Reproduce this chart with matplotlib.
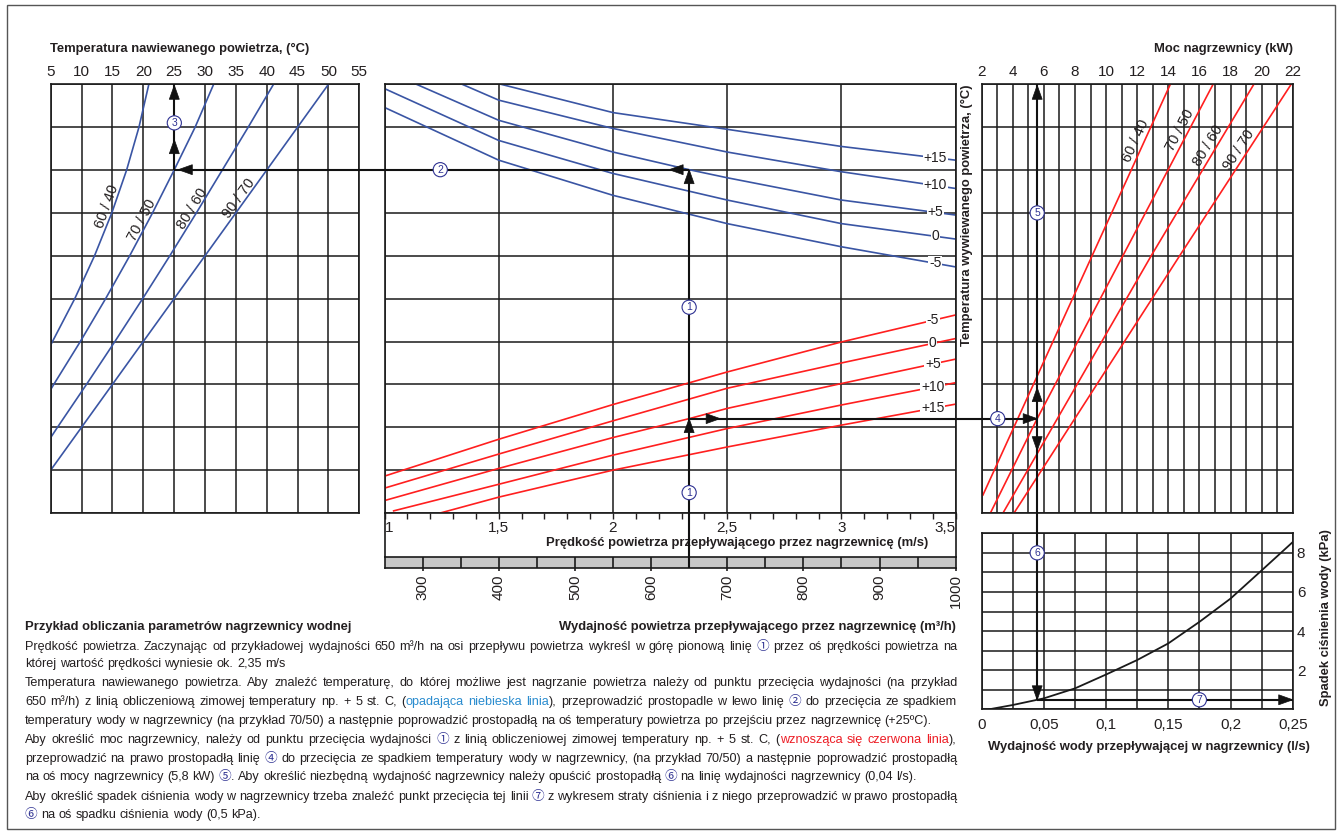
import numpy as np
import matplotlib
matplotlib.use('Agg')
import matplotlib.pyplot as plt
from matplotlib.patches import Polygon, Rectangle

FONT = ['Liberation Sans', 'Noto Sans CJK SC', 'DejaVu Sans']
plt.rcParams['font.family'] = FONT

# ---------------- data ----------------
# left panel: supply air temperature (°C) vs. grid row, per water temperature regime
supply_temp_ticks = [5, 10, 15, 20, 25, 30, 35, 40, 45, 50, 55]
regime_labels = ['60 / 40', '70 / 50', '80 / 60', '90 / 70']
left_temp = {
    '60 / 40': [20.9, 19.3, 17.3, 14.9, 12.1, 8.9, 5.0],
    '70 / 50': [31.4, 28.4, 25.0, 21.5, 17.8, 13.9, 9.8, 5.5, 5.0],
    '80 / 60': [41.1, 37.0, 32.8, 28.6, 24.3, 19.9, 15.4, 10.8, 6.1, 5.0],
    '90 / 70': [50.0, 5.0],
}
left_row = {
    '60 / 40': [10, 9, 8, 7, 6, 5, 3.92],
    '70 / 50': [10, 9, 8, 7, 6, 5, 4, 3, 2.88],
    '80 / 60': [10, 9, 8, 7, 6, 5, 4, 3, 2, 1.76],
    '90 / 70': [10, 1],
}

# middle panel: air velocity (m/s) and air flow (m3/h)
speed_ticks = [1, 1.5, 2, 2.5, 3, 3.5]
speed_tick_labels = ['1', '1,5', '2', '2,5', '3', '3,5']
flow_ticks = [300, 400, 500, 600, 700, 800, 900, 1000]
flow_tick_labels = ['300', '400', '500', '600', '700', '800', '900', '1000']
winter_labels = ['+15', '+10', '+5', '0', '-5']
# blue (supply temperature) curves: velocity -> row
blue_v = {
    '+15': [1.51, 2.0, 2.5, 3.0, 3.5],
    '+10': [1.34, 1.5, 2.0, 2.5, 3.0, 3.5],
    '+5': [1.14, 1.5, 2.0, 2.34, 2.5, 3.0, 3.5],
    '0': [1.0, 1.5, 2.0, 2.5, 3.0, 3.5],
    '-5': [1.0, 1.5, 2.0, 2.5, 3.0, 3.5],
}
blue_r = {
    '+15': [10.0, 9.34, 8.95, 8.55, 8.23],
    '+10': [10.0, 9.63, 8.97, 8.42, 7.96, 7.57],
    '+5': [10.0, 9.16, 8.42, 8.0, 7.82, 7.30, 6.95],
    '0': [9.9, 8.69, 7.92, 7.30, 6.75, 6.39],
    '-5': [9.46, 8.23, 7.41, 6.75, 6.21, 5.74],
}
# red (heating power) curves: velocity -> row
red_v = {
    '-5': [1.0, 1.5, 2.0, 2.5, 3.0, 3.5],
    '0': [1.0, 1.5, 2.0, 2.5, 3.0, 3.5],
    '+5': [1.0, 1.5, 2.0, 2.34, 2.5, 3.0, 3.5],
    '+10': [1.04, 1.5, 2.0, 2.5, 3.0, 3.5],
    '+15': [1.244, 1.5, 2.0, 2.5, 3.0, 3.5],
}
red_r = {
    '-5': [0.86, 1.72, 2.53, 3.29, 3.99, 4.62],
    '0': [0.58, 1.375, 2.15, 2.91, 3.50, 4.07],
    '+5': [0.29, 1.04, 1.76, 2.21, 2.44, 3.02, 3.59],
    '+10': [0.05, 0.67, 1.35, 1.97, 2.52, 3.04],
    '+15': [0.0, 0.37, 1.0, 1.54, 2.05, 2.54],
}

# right panel: heater power (kW) vs. row
power_ticks = [2, 4, 6, 8, 10, 12, 14, 16, 18, 20, 22]
right_kw = {
    '60 / 40': [14.13, 2.08],
    '70 / 50': [16.88, 5.58, 2.56],
    '80 / 60': [19.5, 12.9, 3.37],
    '90 / 70': [21.9, 14.73, 4.08],
}
right_row = {
    '60 / 40': [10, 0.42],
    '70 / 50': [10, 2.21, 0],
    '80 / 60': [10, 6.0, 0],
    '90 / 70': [10, 6.0, 0],
}

# bottom-right: water pressure drop
water_ticks = [0, 0.05, 0.1, 0.15, 0.2, 0.25]
water_tick_labels = ['0', '0,05', '0,1', '0,15', '0,2', '0,25']
dp_ticks = [2, 4, 6, 8]
water_flow = [0.006, 0.025, 0.05, 0.075, 0.1, 0.125, 0.15, 0.175, 0.2, 0.225, 0.25]
pressure_drop = [0.0, 0.22, 0.56, 1.07, 1.78, 2.52, 3.37, 4.47, 5.66, 7.1, 8.55]

# worked example
flow_example = 650
winter_example = '+5'
regime_example = '70 / 50'

# ---------------- styling ----------------
W, H = 1342, 833
BLUE = '#3a55a4'
RED = '#ff1f1f'
GRID = '#1a1a1a'
TXT = '#231f20'
CIRC = '#2e3192'
LBLUE = '#2a8ccf'
TXTRED = '#ed1c24'

fig = plt.figure(figsize=(W / 100, H / 100), dpi=100)


def add_ax(x0, y0, x1, y1, **kw):
    ax = fig.add_axes([x0 / W, 1 - y1 / H, (x1 - x0) / W, (y1 - y0) / H], **kw)
    for s in ax.spines.values():
        s.set_linewidth(1.2)
        s.set_color(GRID)
    return ax


def grid(ax, xs, ys, lw=1.1):
    ax.vlines(xs, ys[0], ys[-1], colors=GRID, lw=lw, zorder=1)
    ax.hlines(ys, xs[0], xs[-1], colors=GRID, lw=lw, zorder=1)


rows = np.arange(0, 11)

# ---- left panel
ax_l = add_ax(50.7, 84.3, 359.3, 513)
ax_l.set_xlim(5, 55)
ax_l.set_ylim(0, 10)
grid(ax_l, supply_temp_ticks, rows)
for lab in regime_labels:
    ax_l.plot(left_temp[lab], left_row[lab], color=BLUE, lw=1.2, zorder=2)
ax_l.xaxis.tick_top()
ax_l.set_xticks(supply_temp_ticks, [str(t) for t in supply_temp_ticks])
ax_l.tick_params(axis='x', length=0, pad=4, labelsize=11, colors=TXT)
ax_l.set_yticks([])

# ---- middle panel
ax_m = add_ax(384.5, 84.3, 955.7, 513)
ax_m.set_xlim(1, 3.5)
ax_m.set_ylim(0, 10)
grid(ax_m, speed_ticks, rows)
for lab in winter_labels:
    ax_m.plot(blue_v[lab], blue_r[lab], color=BLUE, lw=1.2, zorder=2)
    ax_m.plot(red_v[lab], red_r[lab], color=RED, lw=1.2, zorder=2)
for lab in winter_labels:
    rb = np.interp(3.41, blue_v[lab], blue_r[lab])
    ax_m.text(3.41, rb, lab, ha='center', va='center', fontsize=10, color=TXT, zorder=4,
              bbox=dict(boxstyle='square,pad=0.05', fc='white', ec='none'))
    rr = np.interp(3.40, red_v[lab], red_r[lab])
    ax_m.text(3.40, rr, lab, ha='center', va='center', fontsize=10, color=TXT, zorder=4,
              bbox=dict(boxstyle='square,pad=0.05', fc='white', ec='none'))
ax_m.set_xticks(speed_ticks, speed_tick_labels)
ax_m.xaxis.set_minor_locator(matplotlib.ticker.MultipleLocator(0.1))
ax_m.tick_params(axis='x', which='both', direction='out', length=4.5, width=1, pad=1,
                 labelsize=11, colors=TXT)
tl = ax_m.get_xticklabels()
tl[0].set_ha('left')
tl[-1].set_ha('right')
ax_m.set_yticks([])

# ---- flow strip
ax_f = add_ax(384.5, 556.7, 955.7, 568)
ax_f.set_facecolor('#c8c8c8')
ax_f.set_xlim(250, 1000)
ax_f.set_ylim(0, 1)
ax_f.vlines(np.arange(300, 1000, 50), 0, 1, colors=GRID, lw=1.2)
ax_f.set_xticks(flow_ticks, flow_tick_labels, rotation=90)
ax_f.tick_params(axis='x', length=2.5, width=1.2, pad=2, labelsize=11, colors=TXT)
ax_f.set_yticks([])

# ---- right panel
ax_r = add_ax(981.7, 84.3, 1292.7, 513)
ax_r.set_xlim(2, 22)
ax_r.set_ylim(0, 10)
grid(ax_r, np.arange(2, 23, 1), rows)
for lab in regime_labels:
    ax_r.plot(right_kw[lab], right_row[lab], color=RED, lw=1.2, zorder=2)
ax_r.xaxis.tick_top()
ax_r.set_xticks(power_ticks, [str(t) for t in power_ticks])
ax_r.tick_params(axis='x', length=0, pad=4, labelsize=11, colors=TXT)
ax_r.set_yticks([])

# ---- pressure drop panel
ax_p = add_ax(981.7, 533.3, 1292.7, 709.3)
ax_p.set_xlim(0, 0.25)
ax_p.set_ylim(0, 9)
grid(ax_p, np.linspace(0, 0.25, 11), np.arange(0, 10))
ax_p.plot(water_flow, pressure_drop, color=GRID, lw=1.3, zorder=2)
ax_p.set_xticks(water_ticks, water_tick_labels)
ax_p.yaxis.tick_right()
ax_p.set_yticks(dp_ticks, [str(t) for t in dp_ticks])
ax_p.tick_params(axis='both', length=0, labelsize=11, colors=TXT)
ax_p.tick_params(axis='x', pad=6)
ax_p.tick_params(axis='y', pad=3)

# ---- overlay (figure pixel coordinates)
ov = fig.add_axes([0, 0, 1, 1], facecolor='none')
ov.set_xlim(0, W)
ov.set_ylim(H, 0)
ov.axis('off')
ov.set_zorder(10)


def px(ax, x, y):
    dx, dy = ax.transData.transform((x, y))
    return dx, H - dy


def head(x, y, d, L=14, w=5):
    ux, uy = {'up': (0, -1), 'down': (0, 1), 'left': (-1, 0), 'right': (1, 0)}[d]
    bx, by = x - L * ux, y - L * uy
    nx, ny = -uy, ux
    ov.add_patch(Polygon([(x, y), (bx + w * nx, by + w * ny), (bx - w * nx, by - w * ny)],
                         closed=True, fc='#111111', ec='#111111', lw=0.5, zorder=6))


def marker(x, y, n):
    ov.text(x, y, str(n), ha='center', va='center', fontsize=7.5, color=CIRC, zorder=8,
            bbox=dict(boxstyle='circle,pad=0.2', fc='white', ec=CIRC, lw=0.8))


def seg(p, q):
    ov.plot([p[0], q[0]], [p[1], q[1]], color='#111111', lw=1.5, zorder=5,
            solid_capstyle='butt')


# middle frame sides between grid and flow strip
for xv in (1, 3.5):
    a = px(ax_m, xv, 0)
    b = px(ax_f, 250 if xv == 1 else 1000, 1)
    ov.plot([a[0], a[0]], [a[1], b[1]], color=GRID, lw=1.2)

# example path
v_ex = 1 + (flow_example - 250) / (1000 - 250) * (3.5 - 1)
r_sup = np.interp(v_ex, blue_v[winter_example], blue_r[winter_example])
r_pow = np.interp(v_ex, red_v[winter_example], red_r[winter_example])
lt = left_temp[regime_example][::-1]
lr = left_row[regime_example][::-1]
temp_ex = np.interp(r_sup, lr, lt)
rk = right_kw[regime_example][::-1]
rr_ = right_row[regime_example][::-1]
power_ex = np.interp(r_pow, rr_, rk)
x5, _ = px(ax_r, power_ex, 0)
water_ex = ax_p.transData.inverted().transform((x5, 0))[0]
dp_ex = np.interp(water_ex, water_flow, pressure_drop)

Pb = px(ax_f, flow_example, 0)
P1 = px(ax_m, v_ex, r_pow)
P2 = px(ax_m, v_ex, r_sup)
P3 = px(ax_l, temp_ex, r_sup)
P3t = px(ax_l, temp_ex, 10)
P4 = px(ax_r, power_ex, r_pow)
P5t = px(ax_r, power_ex, 10)
P6 = px(ax_p, water_ex, dp_ex)
P7 = px(ax_p, 0.25, dp_ex)

seg(Pb, P2)
seg(P2, P3)
seg(P3, P3t)
seg(P1, P4)
seg(P4, P5t)
seg(P4, P6)
seg(P6, P7)

head(P1[0], P1[1], 'up')
head(P2[0], P2[1], 'up')
head(P2[0] - 20, P2[1], 'left')
head(P3[0] + 4, P3[1], 'left')
head(P3[0], P3[1] - 30, 'up')
head(P3t[0], P3t[1] + 1, 'up')
head(P1[0] + 31, P1[1], 'right')
head(P4[0], P4[1], 'right')
head(P4[0], P4[1] - 31, 'up')
head(P5t[0], P5t[1] + 1, 'up')
head(P4[0], P4[1] + 32, 'down')
head(P6[0], P6[1], 'down')
head(P7[0], P7[1], 'right')

marker(*px(ax_m, v_ex, 4.8), '1')
marker(*px(ax_m, v_ex, 0.475), '1')
marker(*px(ax_m, 1.244, r_sup), '2')
marker(*px(ax_l, temp_ex, 9.1), '3')
marker(*px(ax_r, 3.03, r_pow), '4')
marker(*px(ax_r, power_ex, 7.0), '5')
marker(*px(ax_p, water_ex, 8.0), '6')
marker(*px(ax_p, 0.175, dp_ex), '7')


# rotated regime labels on left and right panels
def line_label(ax, xs, rs, r_lab, label, dx):
    order = np.argsort(rs)
    xs_s = np.array(xs)[order]
    rs_s = np.array(rs)[order]
    xa = np.interp(r_lab - 0.3, rs_s, xs_s)
    xb = np.interp(r_lab + 0.3, rs_s, xs_s)
    pa = px(ax, xa, r_lab - 0.3)
    pb = px(ax, xb, r_lab + 0.3)
    ang = np.degrees(np.arctan2(-(pb[1] - pa[1]), pb[0] - pa[0]))
    xc = np.interp(r_lab, rs_s, xs_s)
    p = px(ax, xc, r_lab)
    ov.text(p[0] + dx, p[1], label, rotation=ang, rotation_mode='anchor', ha='center',
            va='center', fontsize=10.5, color=TXT, zorder=4)


for lab, rl in zip(regime_labels, [7.14, 6.84, 7.1, 7.33]):
    line_label(ax_l, left_temp[lab], left_row[lab], rl, lab, -7)
for lab, rl in zip(regime_labels, [8.69, 8.93, 8.58, 8.46]):
    line_label(ax_r, right_kw[lab], right_row[lab], rl, lab, -9)

# titles
BFS = 9.4
ov.text(50, 49, 'Temperatura nawiewanego powietrza, (°C)', ha='left', va='center',
        fontsize=BFS, weight='bold', color=TXT)
ov.text(1293, 49, 'Moc nagrzewnicy (kW)', ha='right', va='center', fontsize=BFS,
        weight='bold', color=TXT)
ov.text(967, 84, 'Temperatura wywiewanego powietrza, (°C)', rotation=90, ha='center',
        va='top', fontsize=BFS, weight='bold', color=TXT)
ov.text(928, 543, 'Prędkość powietrza przepływającego przez nagrzewnicę (m/s)', ha='right',
        va='center', fontsize=BFS, weight='bold', color=TXT)
ov.text(1326, 618, 'Spadek ciśnienia wody (kPa)', rotation=90, ha='center', va='center',
        fontsize=BFS, weight='bold', color=TXT)
ov.text(1149, 747, 'Wydajność wody przepływającej w nagrzewnicy (l/s)', ha='center',
        va='center', fontsize=BFS, weight='bold', color=TXT)
ov.text(25, 626.7, 'Przykład obliczania parametrów nagrzewnicy wodnej', ha='left',
        va='center', fontsize=BFS, weight='bold', color=TXT)
ov.text(956, 626.7, 'Wydajność powietrza przepływającego przez nagrzewnicę (m³/h)',
        ha='right', va='center', fontsize=BFS, weight='bold', color=TXT)

# body text (justified)
FS = 9.1
X0, X1 = 25, 957
renderer = fig.canvas.get_renderer()


def ink(s):
    t = ov.text(0, 0, s, fontsize=FS)
    w = t.get_window_extent(renderer).width
    t.remove()
    return w


INK_BAR = ink('|')
ADV_BAR = ink('||') - INK_BAR


def adv(s):
    # advance width of s (origin to next origin), measured between two bars
    return ink('|' + s + '|') - ADV_BAR - INK_BAR


SPACE = adv(' ')

body = [
    ([('Prędkość powietrza. Zaczynając od przykładowej wydajności 650 m³/h na osi przepływu powietrza wykreśl w górę pionową linię ', TXT),
      ('①', CIRC), (' przez oś prędkości powietrza na', TXT)], True),
    ([('której wartość prędkości wyniesie ok. 2,35 m/s', TXT)], False),
    ([('Temperatura nawiewanego powietrza. Aby znaleźć temperaturę, do której możliwe jest nagrzanie powietrza należy od punktu przecięcia wydajności (na przykład', TXT)], True),
    ([('650 m³/h) z linią obliczeniową zimowej temperatury np. + 5 st. C, (', TXT),
      ('opadająca niebieska linia', LBLUE), ('), przeprowadzić prostopadle w lewo linię ', TXT),
      ('②', CIRC), (' do przecięcia ze spadkiem', TXT)], True),
    ([('temperatury wody w nagrzewnicy (na przykład 70/50) a następnie poprowadzić prostopadłą na oś temperatury powietrza po przejściu przez nagrzewnicę (+25ºC).', TXT)], False),
    ([('Aby określić moc nagrzewnicy, należy od punktu przecięcia wydajności ', TXT), ('①', CIRC),
      (' z linią obliczeniowej zimowej temperatury np. + 5 st. C, (', TXT),
      ('wznosząca się czerwona linia', TXTRED), ('),', TXT)], True),
    ([('przeprowadzić na prawo prostopadłą linię ', TXT), ('④', CIRC),
      (' do przecięcia ze spadkiem temperatury wody w nagrzewnicy, (na przykład 70/50) a następnie poprowadzić prostopadłą', TXT)], True),
    ([('na oś mocy nagrzewnicy (5,8 kW) ', TXT), ('⑤', CIRC),
      ('. Aby określić niezbędną wydajność nagrzewnicy należy opuścić prostopadłą ', TXT),
      ('⑥', CIRC), (' na linię wydajności nagrzewnicy (0,04 l/s).', TXT)], False),
    ([('Aby określić spadek ciśnienia wody w nagrzewnicy trzeba znaleźć punkt przecięcia tej linii ', TXT),
      ('⑦', CIRC), (' z wykresem straty ciśnienia i z niego przeprowadzić w prawo prostopadłą', TXT)], True),
    ([('⑥', CIRC), (' na oś spadku ciśnienia wody (0,5 kPa).', TXT)], False),
]
centers = [646.7, 663.3, 682.7, 701.7, 720.0, 739.3, 758.3, 776.7, 796.0, 815.0]


def rich_line(segments, yb, justify):
    words = [[]]
    for text, color in segments:
        parts = text.split(' ')
        for i, p in enumerate(parts):
            if i > 0:
                words.append([])
            if p:
                words[-1].append((p, color))
    words = [w for w in words if w]
    widths = [[adv(p) for p, c in w] for w in words]
    total = sum(sum(ws) for ws in widths)
    gap = (X1 - X0 - total) / (len(words) - 1) if (justify and len(words) > 1) else SPACE
    x = X0
    for w, ws in zip(words, widths):
        for (p, c), pw in zip(w, ws):
            ov.text(x, yb, p, color=c, fontsize=FS, ha='left', va='baseline')
            x += pw
        x += gap


for (segs, just), yc in zip(body, centers):
    rich_line(segs, round(yc + 3.5), just)

# outer frame
ov.add_patch(Rectangle((7, 5), 1328, 824, fill=False, ec='#555555', lw=1))

fig.savefig('out.png', dpi=100)
